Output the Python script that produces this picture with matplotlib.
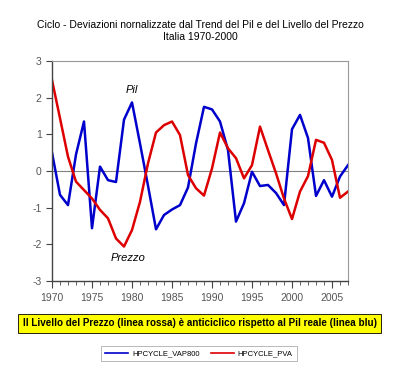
import matplotlib.pyplot as plt
import numpy as np
from matplotlib.ticker import MultipleLocator

years = list(range(1970, 2008))
pil = [0.5, -0.65, -0.93, 0.45, 1.35, -1.56, 0.12, -0.25, -0.3, 1.4,
       1.87, 0.75, -0.4, -1.59, -1.2, -1.05, -0.93, -0.45, 0.75, 1.75,
       1.68, 1.35, 0.57, -1.38, -0.88, -0.02, -0.41, -0.38, -0.6, -0.93,
       1.14, 1.53, 0.9, -0.68, -0.25, -0.7, -0.15, 0.16]
prezzo = [2.48, 1.44, 0.39, -0.29, -0.52, -0.75, -1.06, -1.29, -1.84, -2.06,
          -1.61, -0.84, 0.21, 1.05, 1.25, 1.35, 0.98, -0.11, -0.47, -0.67,
          0.07, 1.05, 0.62, 0.35, -0.2, 0.16, 1.21, 0.57, -0.06, -0.75,
          -1.31, -0.56, -0.14, 0.85, 0.77, 0.3, -0.73, -0.56]

title = "Ciclo - Deviazioni nornalizzate dal Trend del Pil e del Livello del Prezzo\nItalia 1970-2000"
note = "Il Livello del Prezzo (linea rossa) è anticiclico rispetto al Pil reale (linea blu)"
font = "Liberation Sans"
plt.rcParams["axes.unicode_minus"] = False

fig = plt.figure(figsize=(4.0, 3.77), dpi=100)
ax = fig.add_axes([0.13, 0.2546, 0.74, 0.5836])

ax.axhline(0, color="#808080", lw=0.8)
ax.plot(years, pil, color="#0000cc", lw=1.8, label="HPCYCLE_VAP800")
ax.plot(years, prezzo, color="#dd0000", lw=1.8, label="HPCYCLE_PVA")

ax.set_xlim(1970, 2007)
ax.set_ylim(-3, 3)
ax.xaxis.set_major_locator(MultipleLocator(5))
ax.xaxis.set_minor_locator(MultipleLocator(1))
ax.yaxis.set_major_locator(MultipleLocator(1))
ax.tick_params(axis="both", which="both", direction="out", color="#444444",
               labelcolor="#555555", labelsize=7.5)
ax.tick_params(axis="x", which="major", length=5)
ax.tick_params(axis="x", which="minor", length=3)
ax.tick_params(axis="y", length=4)
for lab in ax.get_xticklabels() + ax.get_yticklabels():
    lab.set_family(font)
for s in ["left", "bottom"]:
    ax.spines[s].set_color("#444444")
    ax.spines[s].set_linewidth(1.0)
for s in ["top", "right"]:
    ax.spines[s].set_color("#999999")
    ax.spines[s].set_linewidth(0.8)

ax.text(1980, 2.2, "Pil", style="italic", fontsize=8, family=font, ha="center", va="center")
ax.text(1979.5, -2.37, "Prezzo", style="italic", fontsize=8, family=font, ha="center", va="center")

fig.text(0.5, 0.918, title, ha="center", va="center", fontsize=7.5, family=font,
         linespacing=1.15)

fig.text(0.499, 0.142, note, ha="center", va="center", fontsize=7.1, family=font,
         weight="bold", bbox=dict(boxstyle="square,pad=0.45", fc="#ffff00", ec="black", lw=0.6))

leg = fig.legend(loc="center", bbox_to_anchor=(0.4975, 0.0623), ncol=2, frameon=True,
                 fancybox=False, prop={"family": font, "size": 5.5}, handlelength=3,
                 columnspacing=1.5, borderpad=0.5, handletextpad=0.5)
leg.get_frame().set_edgecolor("#999999")
leg.get_frame().set_linewidth(0.6)
for line in leg.get_lines():
    line.set_linewidth(1.2)

fig.savefig("out.png", dpi=100)
